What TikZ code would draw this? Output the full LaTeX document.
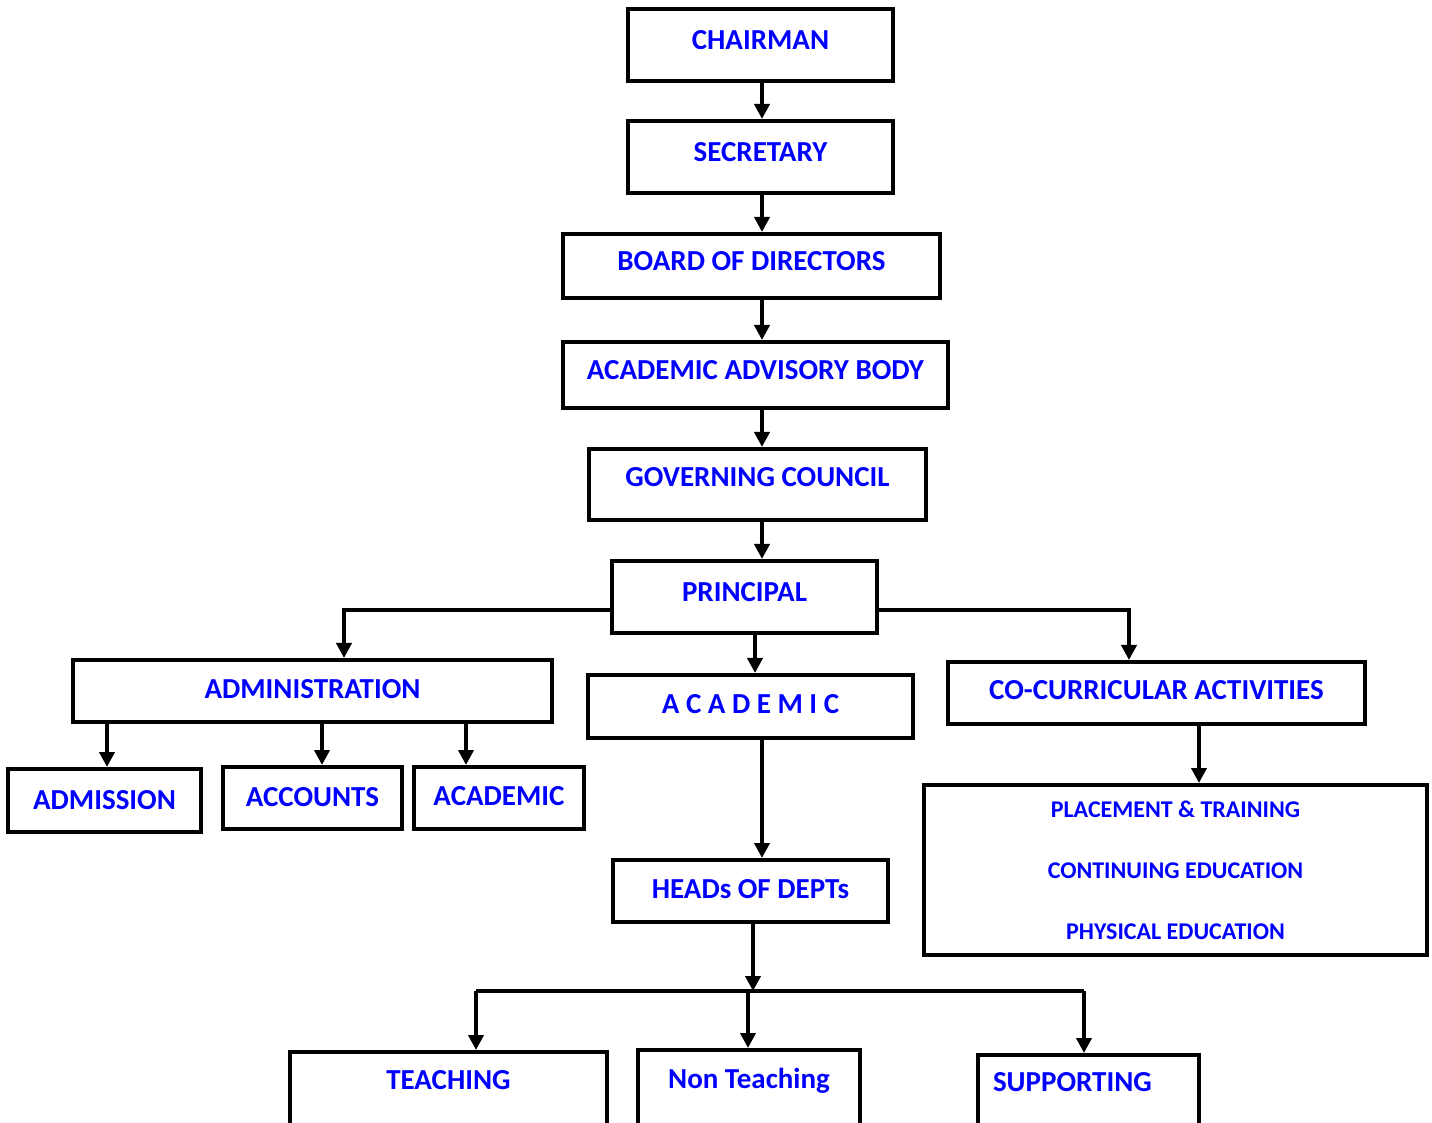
\documentclass[tikz,border=0pt]{standalone}
\usepackage{fontspec}
\setmainfont{Carlito}
\usetikzlibrary{arrows.meta}
\definecolor{orgblue}{RGB}{0,0,255}

\begin{document}
\begin{tikzpicture}[x=0.5pt, y=-0.5pt,
  orgbox/.style={rectangle, draw, line width=2pt, inner sep=0pt, text=orgblue,
    font=\fontsize{14.5}{17}\selectfont\bfseries, text height=9.2pt, text depth=5pt},
  subbox/.style={rectangle, draw, line width=2pt, inner sep=0pt, text=orgblue,
    font=\fontsize{12}{30.5}\selectfont\bfseries, align=center},
  arr/.style={line width=2pt, -{Triangle[width=7.5pt, length=7.5pt]}},
  link/.style={line width=2.2pt}]
  \useasboundingbox (0,0) rectangle (1432,1123);
  % Nodes
  \node (chair) [orgbox, minimum width=132.5pt, minimum height=36pt] at (760.5,45) {CHAIRMAN};
  \node (secr) [orgbox, minimum width=132.5pt, minimum height=36pt] at (760.5,157) {SECRETARY};
  \node (board) [orgbox, minimum width=188.5pt, minimum height=32pt] at (751.5,266) {BOARD OF DIRECTORS};
  \node (advis) [orgbox, minimum width=192.5pt, minimum height=33pt] at (755.5,375) {ACADEMIC ADVISORY BODY};
  \node (gov) [orgbox, minimum width=168.5pt, minimum height=35.5pt, text depth=7pt] at (757.5,484.5) {GOVERNING COUNCIL};
  \node (prin) [orgbox, minimum width=132.5pt, minimum height=36pt] at (744.5,597) {PRINCIPAL};
  \node (admin) [orgbox, minimum width=239.5pt, minimum height=31pt, text depth=2pt] at (312.5,691) {ADMINISTRATION};
  \node (acad) [orgbox, minimum width=162.5pt, minimum height=31.5pt, text depth=2.5pt] at (750.5,706.5) {A C A D E M I C};
  \node (cocur) [orgbox, minimum width=208.5pt, minimum height=31pt, text depth=3pt] at (1156.5,693) {CO-CURRICULAR ACTIVITIES};
  \node (admis) [orgbox, minimum width=96.5pt, minimum height=31.5pt, text depth=0pt] at (104.5,800.5) {ADMISSION};
  \node (acct) [orgbox, minimum width=89.5pt, minimum height=31pt, text depth=0.5pt] at (312.5,798) {ACCOUNTS};
  \node (acadsec) [orgbox, minimum width=85pt, minimum height=31pt, text depth=2pt] at (499,798) {ACADEMIC};
  \node (cobox) [subbox, minimum width=251.5pt, minimum height=85pt] at (1175.5,870) {PLACEMENT \& TRAINING\\CONTINUING EDUCATION\\PHYSICAL EDUCATION};
  \node (heads) [orgbox, minimum width=137.5pt, minimum height=31pt, text depth=2pt] at (750.5,891) {HEADs OF DEPTs};
  \node (teach) [orgbox, minimum width=158.5pt, minimum height=50pt, text depth=22pt] at (448.5,1102) {TEACHING};
  \node (nonteach) [orgbox, minimum width=111pt, minimum height=50pt, text depth=21pt] at (749,1100) {Non Teaching};
  \node (supp) [orgbox, minimum width=110.5pt, minimum height=50pt, text depth=23pt, inner xsep=7.5pt, text width=95.5pt, align=left] at (1088.5,1105) {SUPPORTING};
  % Coordinates
  \coordinate (spine) at (762,0);
  \coordinate (pdrop) at (755,0);
  \coordinate (lsplit) at (344,610);
  \coordinate (rsplit) at (1129,610);
  \coordinate (cdrop) at (1199,0);
  \coordinate (bsplit) at (753,991);
  \coordinate (bleft) at (476,991);
  \coordinate (bmid) at (748,991);
  \coordinate (bright) at (1084,991);
  % Arrows
  \draw[arr] (spine |- chair.south) -- (spine |- secr.north);
  \draw[arr] (spine |- secr.south) -- (spine |- board.north);
  \draw[arr] (spine |- board.south) -- (spine |- advis.north);
  \draw[arr] (spine |- advis.south) -- (spine |- gov.north);
  \draw[arr] (spine |- gov.south) -- (spine |- prin.north);
  \draw[arr] (pdrop |- prin.south) -- (pdrop |- acad.north);
  \draw[arr] (lsplit -| prin.west) -| (lsplit |- admin.north);
  \draw[arr] (rsplit -| prin.east) -| (rsplit |- cocur.north);
  \foreach \x/\t in {107/admis, 322/acct, 466/acadsec} {
    \coordinate (drop) at (\x,0);
    \draw[arr] (drop |- admin.south) -- (drop |- \t.north);
  }
  \draw[arr] (cdrop |- cocur.south) -- (cdrop |- cobox.north);
  \draw[arr] (spine |- acad.south) -- (spine |- heads.north);
  \draw[arr] (bsplit |- heads.south) -- (bsplit);
  \draw[link] (bleft) -- (bright);
  \draw[arr] (bleft) -- (bleft |- teach.north);
  \draw[arr] (bmid) -- (bmid |- nonteach.north);
  \draw[arr] (bright) -- (bright |- supp.north);
\end{tikzpicture}
\end{document}
